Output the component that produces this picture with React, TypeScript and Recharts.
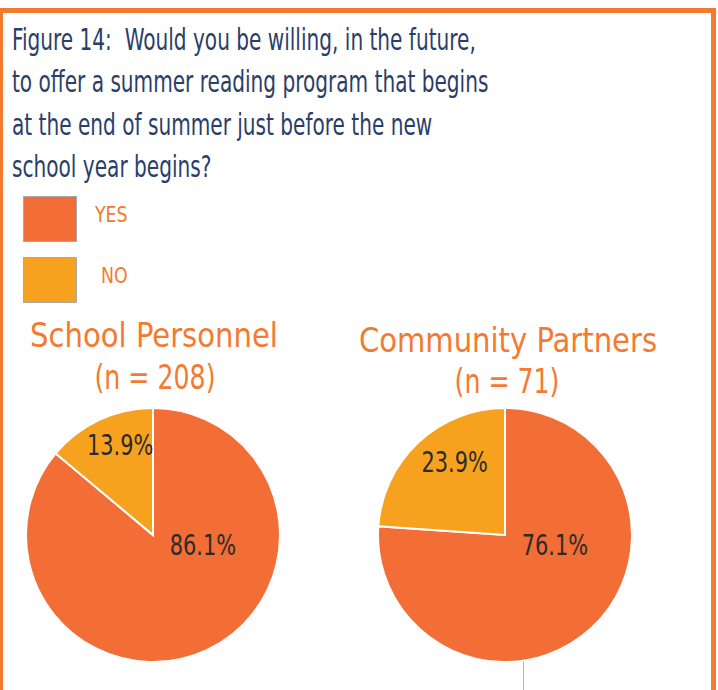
import { PieChart, Pie, Cell } from "recharts";

const answers = ["YES", "NO"];
const schoolValues = [86.1, 13.9];
const communityValues = [76.1, 23.9];
const groupTitles = ["School Personnel", "Community Partners"];
const groupCounts = ["(n = 208)", "(n = 71)"];
const titleLines = [
  "Figure 14:  Would you be willing, in the future,",
  "to offer a summer reading program that begins",
  "at the end of summer just before the new",
  "school year begins?",
];

const colors = ["#f36d36", "#f7a21f"];
const accent = "#f47a30";
const navy = "#2a3e69";
const font = '"DejaVu Sans Condensed", "DejaVu Sans", sans-serif';

const schoolData = answers.map((name, i) => ({ name, value: schoolValues[i] }));
const communityData = answers.map((name, i) => ({ name, value: communityValues[i] }));

const RAD = Math.PI / 180;

// condensed look: squeeze glyphs horizontally around the anchor point
function Squeezed({ x, y, sx, children, ...rest }: any) {
  return (
    <text transform={`translate(${x} ${y}) scale(${sx} 1)`} fontFamily={font} {...rest}>
      {children}
    </text>
  );
}

function SliceLabel(props: any) {
  const { cx, cy, outerRadius, midAngle, value, index } = props;
  const mid = ((midAngle % 360) + 360) % 360;
  let angle: number;
  let r: number;
  if (index === 0) {
    // big slice: just right of centre
    angle = -11;
    r = outerRadius * 0.4;
  } else {
    // small slice: inside the wedge, pulled toward 12 o'clock
    angle = 90 + (mid - 90) * 0.8;
    r = outerRadius * (0.83 - 0.003 * (mid - 90));
  }
  const x = cx + r * Math.cos(angle * RAD);
  const y = cy - r * Math.sin(angle * RAD);
  return (
    <Squeezed x={x} y={y + 10} sx={0.8} textAnchor="middle" fill="#2b2b2b" fontSize={29}>
      {value.toFixed(1)}%
    </Squeezed>
  );
}

export default function App() {
  return (
    <div style={{ position: "absolute", left: 0, top: 0, width: 718, height: 690, overflow: "hidden", background: "#fff" }}>
      <div
        style={{
          position: "absolute",
          left: -2,
          top: 8,
          width: 718,
          height: 700,
          boxSizing: "border-box",
          border: `5px solid ${accent}`,
        }}
      />
      <svg width={718} height={690} style={{ position: "absolute", left: 0, top: 0 }}>
        {titleLines.map((t, i) => (
          <Squeezed key={t} x={12} y={50 + i * 42.3} sx={0.745} fill={navy} fontSize={30} style={{ whiteSpace: "pre" }}>
            {t}
          </Squeezed>
        ))}
        {answers.map((a, i) => (
          <g key={a}>
            <rect x={23.5} y={196.5 + i * 61} width={53} height={45} fill={colors[i]} stroke="#a9a9a9" />
            <Squeezed x={i === 0 ? 95 : 101} y={222 + i * 61} sx={0.92} fill={accent} fontSize={21}>
              {a}
            </Squeezed>
          </g>
        ))}
        {groupTitles.map((t, i) => (
          <g key={t}>
            <Squeezed x={i === 0 ? 154 : 508} y={i === 0 ? 347 : 352} sx={0.98} textAnchor="middle" fill={accent} fontSize={33}>
              {t}
            </Squeezed>
            <Squeezed x={i === 0 ? 155 : 507} y={i === 0 ? 389 : 393} sx={0.85} textAnchor="middle" fill={accent} fontSize={33}>
              {groupCounts[i]}
            </Squeezed>
          </g>
        ))}
        <line x1={523.5} y1={660} x2={523.5} y2={690} stroke="#f4a080" strokeWidth={1} />
      </svg>
      <div style={{ position: "absolute", left: 0, top: 0 }}>
        <PieChart width={718} height={690} margin={{ top: 0, right: 0, bottom: 0, left: 0 }}>
          <Pie
            data={schoolData}
            dataKey="value"
            nameKey="name"
            cx={153}
            cy={535}
            outerRadius={127}
            startAngle={90}
            endAngle={-270}
            stroke="#fff"
            strokeWidth={2}
            label={SliceLabel}
            labelLine={false}
            isAnimationActive={false}
          >
            {schoolData.map((d, i) => (
              <Cell key={d.name} fill={colors[i]} />
            ))}
          </Pie>
          <Pie
            data={communityData}
            dataKey="value"
            nameKey="name"
            cx={505}
            cy={535}
            outerRadius={127}
            startAngle={90}
            endAngle={-270}
            stroke="#fff"
            strokeWidth={2}
            label={SliceLabel}
            labelLine={false}
            isAnimationActive={false}
          >
            {communityData.map((d, i) => (
              <Cell key={d.name} fill={colors[i]} />
            ))}
          </Pie>
        </PieChart>
      </div>
    </div>
  );
}
